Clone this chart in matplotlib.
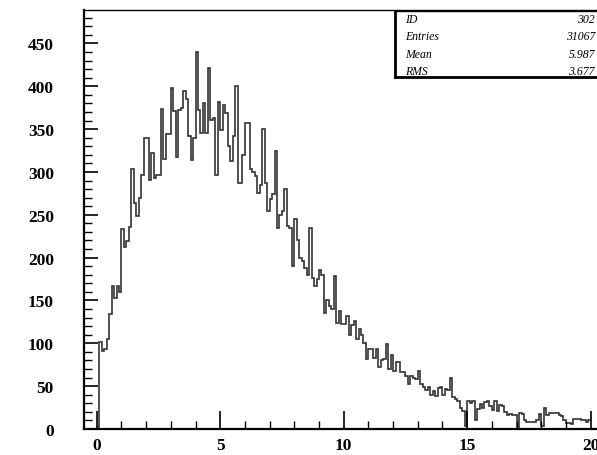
import numpy as np
import matplotlib
matplotlib.use("Agg")
import matplotlib.pyplot as plt
from matplotlib.patches import Rectangle
from matplotlib.ticker import MultipleLocator

# histogram 302: 200 bins from 0 to 20
x_min, x_max, n_bins = 0.0, 20.0, 200
counts = [
    2, 101, 91, 93, 105, 134, 167, 153, 167, 160,
    233, 212, 219, 236, 303, 264, 249, 270, 297, 340,
    340, 291, 322, 293, 296, 296, 373, 315, 344, 344,
    398, 371, 318, 372, 375, 394, 385, 342, 314, 340,
    440, 372, 346, 380, 345, 421, 361, 363, 297, 382,
    349, 378, 369, 330, 313, 342, 400, 287, 287, 320,
    357, 357, 303, 300, 295, 275, 285, 350, 287, 255,
    268, 274, 324, 235, 250, 254, 280, 237, 235, 190,
    245, 221, 200, 196, 188, 180, 235, 176, 167, 175,
    185, 180, 135, 150, 144, 140, 178, 124, 138, 122,
    122, 132, 110, 121, 126, 105, 117, 110, 100, 82,
    93, 93, 83, 93, 72, 80, 82, 99, 70, 86,
    68, 78, 78, 66, 66, 62, 52, 62, 60, 58,
    68, 53, 49, 45, 49, 40, 44, 38, 48, 49,
    40, 47, 45, 59, 37, 35, 33, 25, 21, 3,
    33, 30, 33, 11, 23, 29, 24, 32, 33, 27,
    22, 33, 21, 28, 27, 20, 16, 18, 16, 16,
    2, 19, 18, 10, 8, 8, 8, 8, 10, 17,
    3, 25, 16, 19, 19, 19, 19, 16, 15, 10,
    7, 7, 6, 12, 12, 12, 10, 10, 8, 10,
]

stat_names = ["ID", "Entries", "Mean", "RMS"]
stat_values = ["302", "31067", "5.987", "3.677"]

W, H = 597, 456
fig = plt.figure(figsize=(W / 100, H / 100), dpi=100)

# frame in pixels: left 84, right 603 (clipped off the picture), top 11, bottom 430
left, right, top, bottom = 84.4, 603.0, 11.0, 430.0
ax = fig.add_axes([left / W, 1 - bottom / H, (right - left) / W, (bottom - top) / H])

edges = np.linspace(x_min, x_max, n_bins + 1)
ax.stairs(counts, edges, color="#333333", lw=1.2, baseline=None)

ax.set_xlim(-0.5, 20.5)
ax.set_ylim(0, 489)

ax.xaxis.set_major_locator(MultipleLocator(5))
ax.xaxis.set_minor_locator(MultipleLocator(1))
ax.yaxis.set_major_locator(MultipleLocator(50))
ax.yaxis.set_minor_locator(MultipleLocator(10))

for s in ["top", "right"]:
    ax.spines[s].set_linewidth(1.0)
for s in ["left", "bottom"]:
    ax.spines[s].set_linewidth(1.6)

ax.tick_params(axis="x", which="major", direction="in", length=13, width=1.2,
               pad=6, top=False)
ax.tick_params(axis="x", which="minor", direction="in", length=6, width=1.0, top=False)
ax.tick_params(axis="y", which="major", direction="in", length=10, width=1.2,
               pad=22, right=False)
ax.tick_params(axis="y", which="minor", direction="in", length=6, width=1.0, right=False)

for lab in ax.get_xticklabels() + ax.get_yticklabels():
    lab.set_fontfamily("Liberation Serif")
    lab.set_fontweight("bold")
    lab.set_fontsize(12.5)

# stats box in the top right corner
bx0, bx1, by0, by1 = 395.0, 603.0, 11.5, 78.0
fig.patches.append(Rectangle((bx0 / W, 1 - by1 / H), (bx1 - bx0) / W, (by1 - by0) / H,
                             transform=fig.transFigure, facecolor="white",
                             edgecolor="black", lw=1.0, zorder=5))
fig.add_artist(plt.Line2D([bx0 / W, bx0 / W], [1 - by0 / H, 1 - by1 / H],
                          transform=fig.transFigure, color="black", lw=2.0, zorder=6))
fig.add_artist(plt.Line2D([bx0 / W, bx1 / W], [1 - by1 / H, 1 - by1 / H],
                          transform=fig.transFigure, color="black", lw=2.0, zorder=6))

row_y = [20, 37, 55, 72]
for name, val, y in zip(stat_names, stat_values, row_y):
    fig.text(405 / W, 1 - y / H, name, ha="left", va="center", fontsize=8.5,
             fontfamily="Liberation Serif", style="italic", zorder=7)
    fig.text(595 / W, 1 - y / H, val, ha="right", va="center", fontsize=8.5,
             fontfamily="Liberation Serif", style="italic", zorder=7)

fig.savefig("out.png", dpi=100)
